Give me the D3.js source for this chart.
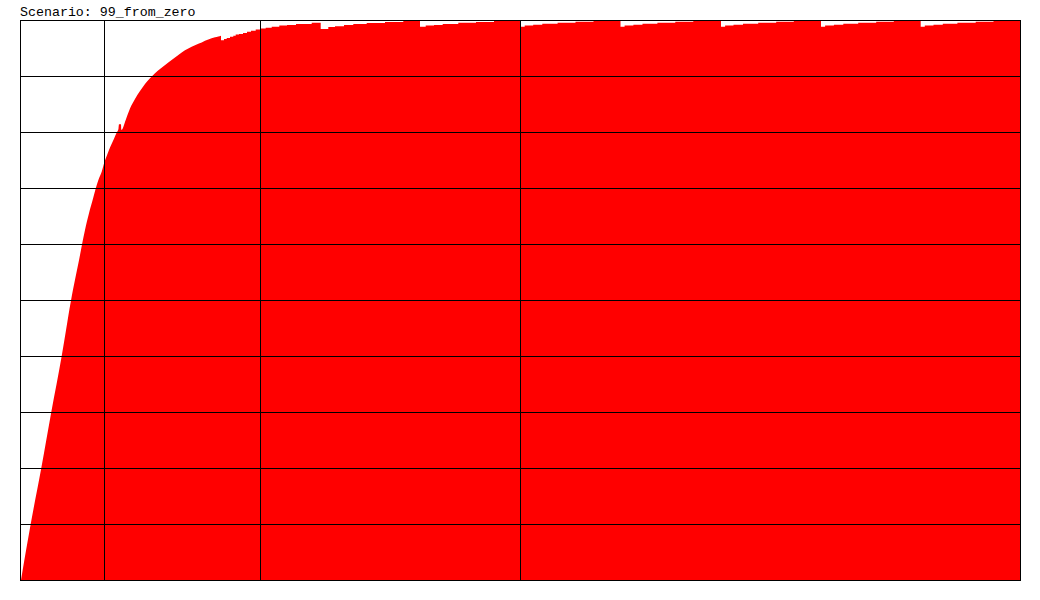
<!DOCTYPE html>
<html>
<head>
<meta charset="utf-8">
<script src="https://cdn.jsdelivr.net/npm/d3@7"></script>
<style>
   body { margin: 0; background: #fff; }
   text { font-family: "Liberation Mono", "Courier New", monospace; }
</style>
</head>
<body>
<svg id="chart" width="1040" height="600"></svg>
<script>
const title = "Scenario: 99_from_zero";

// rising part of the curve (x in 0..1000, y in 0..100)
const rampX = [1, 10.7, 21.3, 31.3, 41.7, 46, 51, 55, 59, 62, 65, 69, 73.3, 75.7, 78.3, 81.7, 84.3, 86.7, 89,
   94, 96.7, 98.5, 99, 101, 101.3, 101.7, 105, 110, 115, 120, 125, 130, 135, 140, 148.3, 155,
   161.7, 168.3, 175, 181.7, 188.3, 195, 198.3, 201];
const rampY = [0, 10, 20, 30, 40, 44.6, 49.9, 53.6, 57.1, 59.9, 62.5, 65.5, 68.3, 69.9, 71.4, 72.9, 74.55, 75.7, 76.8,
   78.8, 79.9, 80.6, 81.4, 81.4, 80.4, 80.4, 81.8, 84.2, 85.9, 87.3, 88.55, 89.6, 90.5, 91.25, 92.4, 93.3,
   94.2, 94.9, 95.5, 96.0, 96.5, 96.9, 97.05, 97.2];

// flat part, drawn as steps
const stepX = [201, 204, 206.7, 210, 213.3, 215.7, 219, 223, 227, 231, 235.7, 240.3, 245.7, 251.7, 259.3, 267, 276, 291.7,
   300.7, 308.3, 315, 324, 333.3, 346.7, 365, 383.3,
   400, 405.7, 414, 422.7, 438.3, 456, 474,
   500, 504.7, 513.2, 522.3, 537.6, 555.5, 573.5,
   600.5, 604.6, 613.4, 622.5, 637.4, 655.3, 673.3,
   701, 705.1, 713.5, 723, 738.2, 756.2, 773.8,
   801, 805.1, 813.9, 823.3, 838.2, 856.2, 873.8,
   900.7, 904.8, 913.5, 922.8, 937.4, 955.7, 973.5,
   1000];
const stepY = [96.4, 96.6, 96.8, 97.0, 97.2, 97.4, 97.5, 97.7, 97.9, 98.1, 98.3, 98.5, 98.6, 98.8, 99.0, 99.1, 99.3, 99.5,
   98.4, 98.75, 98.9, 99.1, 99.3, 99.45, 99.65, 99.8,
   98.8, 99.0, 99.1, 99.3, 99.5, 99.65, 99.8,
   98.8, 99.0, 99.15, 99.35, 99.5, 99.7, 99.9,
   98.8, 99.0, 99.15, 99.35, 99.5, 99.7, 99.9,
   98.8, 99.0, 99.15, 99.35, 99.5, 99.7, 99.9,
   98.8, 99.0, 99.15, 99.35, 99.5, 99.7, 99.9,
   98.8, 99.0, 99.15, 99.35, 99.5, 99.7, 99.9,
   99.9];

const xGrid = [84, 240, 500];
const yGrid = [10, 20, 30, 40, 50, 60, 70, 80, 90];

function chart() {
   const margin = { top: 20, left: 20 };
   const width = 1000, height = 560;

   const svg = d3.select("#chart");
   const g = svg.append("g").attr("transform", `translate(${margin.left},${margin.top})`);

   const x = d3.scaleLinear().domain([0, 1000]).range([0, width]);
   const y = d3.scaleLinear().domain([0, 100]).range([height, 0]);

   const ramp = rampX.map((d, i) => [d, rampY[i]]);
   const steps = stepX.map((d, i) => [d, stepY[i]]);

   const area = d3.area()
      .x(d => x(d[0]))
      .y0(y(0))
      .y1(d => y(d[1]));

   g.append("path")
      .datum(ramp)
      .attr("fill", "#ff0000")
      .attr("d", area.curve(d3.curveMonotoneX));

   g.append("path")
      .datum(steps)
      .attr("fill", "#ff0000")
      .attr("d", area.curve(d3.curveStepAfter));

   // grid drawn over the area
   g.append("g")
      .call(d3.axisLeft(y).tickValues(yGrid).tickSize(-width).tickFormat(""))
      .call(a => a.select(".domain").remove())
      .selectAll("line").attr("stroke", "#000");

   g.append("g")
      .attr("transform", `translate(0,${height})`)
      .call(d3.axisBottom(x).tickValues(xGrid).tickSize(height).tickSizeOuter(0).tickFormat(""))
      .call(a => a.select(".domain").remove())
      .selectAll("line").attr("stroke", "#000").attr("y2", -height);

   g.append("rect")
      .attr("x", 0.5)
      .attr("y", 0.5)
      .attr("width", width)
      .attr("height", height)
      .attr("fill", "none")
      .attr("stroke", "#000");

   svg.append("text")
      .attr("x", 20)
      .attr("y", 16)
      .attr("font-size", "13.3px")
      .attr("fill", "#000")
      .text(title);
}

chart();
</script>
</body>
</html>
